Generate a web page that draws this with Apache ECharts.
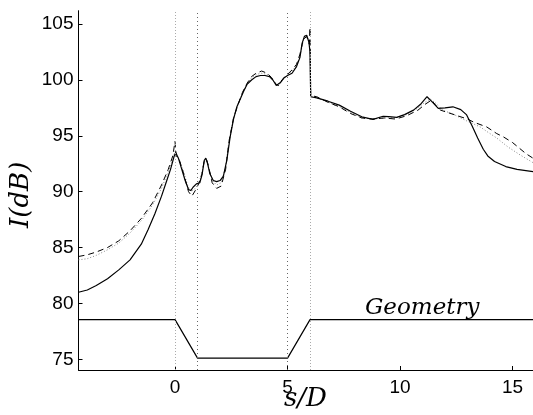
<!DOCTYPE html>
<html>
<head>
<meta charset="utf-8">
<script src="https://cdn.jsdelivr.net/npm/echarts@6/dist/echarts.min.js"></script>
<style>
  html, body { margin: 0; padding: 0; background: #fff; }
  #chart { width: 533px; height: 415px; }
</style>
</head>
<body>
<div id="chart"></div>
<script>
// s/D positions and intensity (dB) for each curve
const solidS = [-4.29, -3.9, -3.5, -3.0, -2.5, -2.0, -1.5, -1.2, -0.9, -0.6, -0.4, -0.2, -0.05, 0.03, 0.15, 0.3, 0.45, 0.6, 0.7, 0.8, 0.95, 1.1, 1.2, 1.3, 1.37, 1.45, 1.55, 1.7, 1.85, 2.0, 2.15, 2.3, 2.45, 2.6, 2.75, 2.9, 3.05, 3.2, 3.4, 3.6, 3.8, 4.0, 4.2, 4.35, 4.5, 4.58, 4.7, 4.85, 5.0, 5.2, 5.4, 5.55, 5.65, 5.75, 5.85, 5.95, 6.0, 6.03, 6.3, 6.8, 7.3, 7.8, 8.3, 8.8, 9.25, 9.5, 9.85, 10.2, 10.6, 10.9, 11.2, 11.45, 11.7, 12.0, 12.35, 12.7, 12.95, 13.2, 13.45, 13.7, 13.9, 14.2, 14.7, 15.2, 15.91];
const solidI = [81.0, 81.2, 81.6, 82.2, 83.0, 83.9, 85.3, 86.6, 88.0, 89.6, 90.8, 92.0, 93.1, 93.5, 93.0, 92.0, 91.0, 90.2, 90.1, 90.4, 90.7, 90.8, 91.5, 92.8, 93.0, 92.5, 91.6, 91.0, 90.9, 91.0, 91.4, 92.8, 94.9, 96.5, 97.6, 98.3, 99.0, 99.6, 100.0, 100.3, 100.4, 100.4, 100.3, 100.0, 99.5, 99.4, 99.8, 100.2, 100.4, 100.6, 101.2, 102.0, 103.3, 103.9, 104.0, 103.4, 102.5, 98.5, 98.4, 98.1, 97.75, 97.2, 96.7, 96.47, 96.75, 96.72, 96.65, 96.9, 97.3, 97.8, 98.5, 98.0, 97.45, 97.5, 97.6, 97.35, 96.9, 95.9, 94.8, 93.8, 93.2, 92.7, 92.25, 92.0, 91.8];

const dashS = [-4.29, -3.9, -3.5, -3.0, -2.5, -2.0, -1.5, -1.0, -0.6, -0.3, -0.1, 0.0, 0.05, 0.2, 0.4, 0.6, 0.75, 0.9, 1.05, 1.2, 1.3, 1.4, 1.5, 1.65, 1.85, 2.05, 2.25, 2.4, 2.6, 2.8, 3.0, 3.2, 3.4, 3.6, 3.85, 4.1, 4.3, 4.5, 4.6, 4.75, 5.0, 5.2, 5.4, 5.55, 5.7, 5.85, 5.97, 6.0, 6.03, 6.3, 6.8, 7.3, 7.8, 8.3, 8.8, 9.3, 9.8, 10.3, 10.8, 11.1, 11.4, 11.6, 11.8, 12.4, 13.0, 13.3, 13.85, 14.3, 14.6, 15.0, 15.6, 15.91];
const dashI = [84.2, 84.35, 84.6, 85.0, 85.6, 86.5, 87.6, 89.0, 90.6, 92.0, 93.2, 94.5, 93.2, 92.8, 91.5, 90.0, 89.6, 90.1, 90.7, 91.6, 92.8, 92.9, 92.2, 90.8, 90.3, 90.5, 92.0, 94.5, 96.6, 97.8, 98.9, 99.7, 100.3, 100.6, 100.8, 100.6, 100.2, 99.6, 99.5, 100.0, 100.5, 100.9, 101.4, 102.3, 103.6, 103.9, 103.2, 104.7, 98.6, 98.5, 98.0, 97.6, 97.0, 96.6, 96.5, 96.6, 96.5, 96.8, 97.3, 97.8, 98.2, 97.7, 97.3, 96.9, 96.5, 96.2, 95.8, 95.2, 94.9, 94.4, 93.4, 93.0];

const dotS = [-4.29, -3.9, -3.5, -3.0, -2.5, -2.0, -1.5, -1.0, -0.6, -0.3, -0.1, 0.0, 0.15, 0.35, 0.55, 0.7, 0.85, 1.0, 1.15, 1.3, 1.4, 1.5, 1.65, 1.85, 2.05, 2.25, 2.4, 2.6, 2.8, 3.0, 3.2, 3.4, 3.6, 3.85, 4.1, 4.3, 4.5, 4.6, 4.75, 5.0, 5.2, 5.4, 5.55, 5.7, 5.85, 5.97, 6.03, 6.3, 6.8, 7.3, 7.8, 8.3, 8.8, 9.3, 9.8, 10.3, 10.8, 11.1, 11.35, 11.6, 11.9, 12.4, 13.0, 13.56, 13.85, 14.3, 14.8, 15.33, 15.91];
const dotI = [83.9, 84.0, 84.3, 84.8, 85.4, 86.3, 87.4, 88.8, 90.3, 91.8, 92.9, 93.6, 93.0, 92.0, 90.6, 90.0, 90.2, 90.6, 91.3, 92.7, 92.8, 92.1, 91.0, 90.6, 90.8, 92.2, 94.6, 96.6, 97.8, 98.8, 99.6, 100.2, 100.5, 100.6, 100.5, 100.1, 99.6, 99.5, 99.9, 100.4, 100.8, 101.3, 102.1, 103.5, 104.0, 103.3, 98.5, 98.4, 98.0, 97.6, 97.1, 96.6, 96.5, 96.6, 96.6, 96.9, 97.5, 98.0, 98.3, 97.9, 97.3, 96.9, 96.3, 95.8, 95.4, 94.8, 94.0, 93.3, 92.6];

// duct geometry outline
const geomS = [-4.29, 0, 1, 5, 6, 15.91];
const geomI = [78.55, 78.55, 75.1, 75.1, 78.55, 78.55];

const xTicks = [0, 5, 10, 15];
const yTicks = [75, 80, 85, 90, 95, 100, 105];
const sectionEdgesLight = [0, 6];
const sectionEdgesDark = [1, 5];

const zip = (xs, ys) => xs.map((x, i) => [x, ys[i]]);

const chart = echarts.init(document.getElementById('chart'));

const tickFont = { fontFamily: 'Liberation Sans', fontSize: 19, color: '#000' };
const mathFont = { fontFamily: 'DejaVu Serif', fontStyle: 'italic', fill: '#000' };

chart.setOption({
  animation: false,
  grid: { left: 78.5, top: 10.7, right: 0, bottom: 45, containLabel: false, outerBoundsMode: 'none' },
  xAxis: {
    type: 'value',
    min: -4.29,
    max: 15.91,
    axisLine: { show: true, onZero: false, lineStyle: { color: '#000', width: 1 } },
    axisTick: { show: true, inside: true, length: 4, customValues: xTicks, lineStyle: { color: '#000' } },
    axisLabel: { customValues: xTicks, margin: 8, ...tickFont },
    splitLine: { show: false }
  },
  yAxis: {
    type: 'value',
    min: 74.04,
    max: 106.2,
    axisLine: { show: true, onZero: false, lineStyle: { color: '#000', width: 1 } },
    axisTick: { show: true, inside: true, length: 4, customValues: yTicks, lineStyle: { color: '#000' } },
    axisLabel: { customValues: yTicks, margin: 5, ...tickFont },
    splitLine: { show: false }
  },
  graphic: [
    { type: 'text', left: 284, top: 386, style: { text: 's/D', fontSize: 26, ...mathFont } },
    { type: 'text', x: 8, y: 228, rotation: Math.PI / 2, style: { text: 'I(dB)', fontSize: 26, ...mathFont } },
    { type: 'text', left: 365, top: 297, style: { text: 'Geometry', fontSize: 23, ...mathFont } }
  ],
  series: [
    {
      type: 'line', data: zip(geomS, geomI), symbol: 'none',
      lineStyle: { color: '#000', width: 1.2 },
      markLine: {
        silent: true, symbol: 'none', label: { show: false },
        data: [
          ...sectionEdgesLight.map(v => ({ xAxis: v, lineStyle: { color: '#aaa', type: [1, 2], width: 1 } })),
          ...sectionEdgesDark.map(v => ({ xAxis: v, lineStyle: { color: '#666', type: [1, 3], width: 1 } }))
        ]
      }
    },
    {
      type: 'line', data: zip(dotS, dotI), symbol: 'none',
      lineStyle: { color: '#888', width: 1, type: [1, 2] }
    },
    {
      type: 'line', data: zip(dashS, dashI), symbol: 'none',
      lineStyle: { color: '#000', width: 1, type: [6, 4] }
    },
    {
      type: 'line', data: zip(solidS, solidI), symbol: 'none',
      lineStyle: { color: '#000', width: 1.2 }
    }
  ]
});
</script>
</body>
</html>
